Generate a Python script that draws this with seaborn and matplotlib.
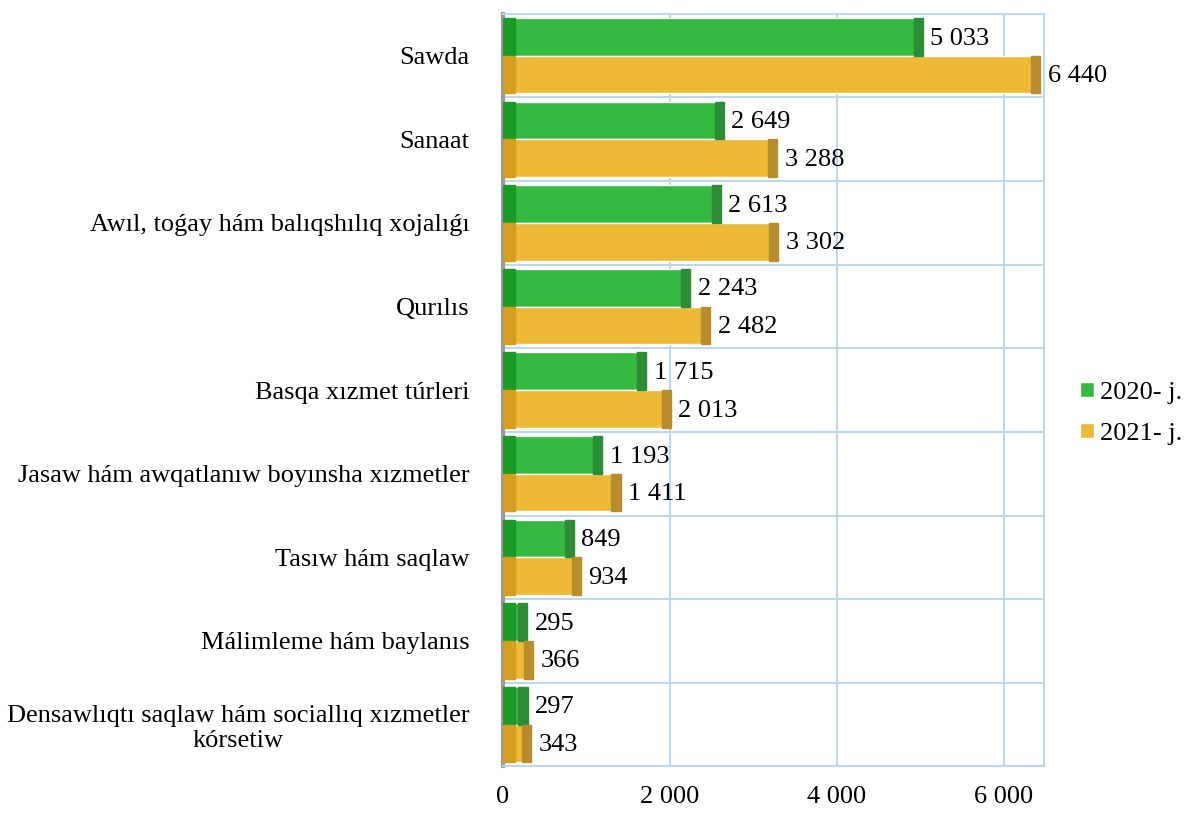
import pandas as pd
import matplotlib.pyplot as plt
import seaborn as sns

# data
categories = [
    "Sawda",
    "Sanaat",
    "Awıl, toǵay hám balıqshılıq xojalıǵı",
    "Qurılıs",
    "Basqa xızmet túrleri",
    "Jasaw hám awqatlanıw boyınsha xızmetler",
    "Tasıw hám saqlaw",
    "Málimleme hám baylanıs",
    "Densawlıqtı saqlaw hám sociallıq xızmetler\nkórsetiw",
]
vals_2020 = [5033, 2649, 2613, 2243, 1715, 1193, 849, 295, 297]
vals_2021 = [6440, 3288, 3302, 2482, 2013, 1411, 934, 366, 343]
years = ["2020- j.", "2021- j."]
xticks = [0, 2000, 4000, 6000]

df = pd.DataFrame({
    "cat": categories * 2,
    "val": vals_2020 + vals_2021,
    "year": [years[0]] * len(categories) + [years[1]] * len(categories),
})

sns.set_style("white")
plt.rcParams["font.family"] = ["Liberation Serif", "DejaVu Serif"]
plt.rcParams["text.color"] = "black"
plt.rcParams["xtick.color"] = "black"
plt.rcParams["ytick.color"] = "black"

colors = ["#34BA40", "#EEB936"]
end_colors = ["#2E8B36", "#B88E2C"]
left_colors = ["#1A9A26", "#D49E1E"]
grid_c = "#BDD7EE"
fs = 19

fig = plt.figure(figsize=(11.86, 8.17), dpi=100)
ax = fig.add_axes([0.424, 0.062, 0.456, 0.921])

sns.barplot(data=df, y="cat", x="val", hue="year", palette=colors,
            orient="h", width=0.9, ax=ax, legend=True, saturation=1, zorder=2)

# darker end and left faces to hint the 3D look
for cont, ec, lc in zip(ax.containers, end_colors, left_colors):
    for p in cont.patches:
        w = p.get_width()
        ax.add_patch(plt.Rectangle((p.get_x() + w - 110, p.get_y()), 110, p.get_height(),
                                   color=ec, zorder=3))
        ax.add_patch(plt.Rectangle((0, p.get_y()), min(140, w - 110), p.get_height(),
                                   color=lc, zorder=3))

# value labels
for cont, vals in zip(ax.containers, [vals_2020, vals_2021]):
    for p, v in zip(cont.patches, vals):
        ax.text(p.get_width() + 90, p.get_y() + p.get_height() / 2 + 0.02,
                f"{v:,}".replace(",", " "), va="center", ha="left", fontsize=fs,
                clip_on=False)

ax.set_xlim(0, 6480)
ax.set_ylim(len(categories) - 0.5, -0.5)
ax.set_xticks(xticks)
ax.set_xticklabels([f"{t:,}".replace(",", " ") for t in xticks], fontsize=fs)
ax.tick_params(axis="x", length=0, pad=14)
ax.tick_params(axis="y", length=0, pad=24, labelsize=fs)
for lab in ax.get_yticklabels():
    lab.set_multialignment("center")
ax.set_xlabel("")
ax.set_ylabel("")

# grid
for t in xticks:
    ax.axvline(t, color=grid_c, lw=1.5, zorder=0)
for i in range(len(categories) + 1):
    ax.axhline(i - 0.5, color=grid_c, lw=1.5, zorder=0)
for s in ax.spines.values():
    s.set_color(grid_c)
    s.set_linewidth(1.5)
ax.spines["left"].set_color("#9a9a9a")
ax.spines["left"].set_linewidth(3)

ax.legend(loc="center left", bbox_to_anchor=(1.068, 0.469), frameon=False,
          fontsize=fs, handlelength=0.5, handleheight=0.5, handletextpad=0.25,
          labelspacing=0.75, borderaxespad=0, borderpad=0)

plt.savefig("out.png", dpi=100)
